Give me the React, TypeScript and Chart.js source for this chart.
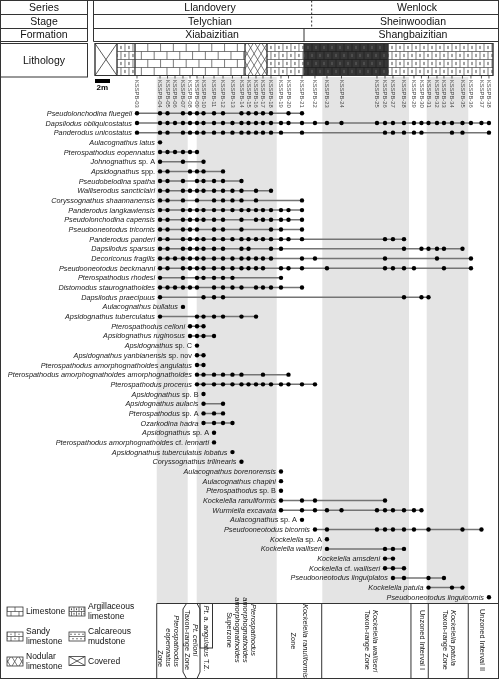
import React, { useEffect, useRef } from "react";
import { Chart, registerables } from "chart.js";

Chart.register(...registerables);

const FONT = "'Liberation Sans', Arial, Helvetica, sans-serif";

// ---- Samples (stratigraphic height in metres above section base) ----
const SAMPLE_NUMS = [3, 4, 5, 6, 7, 8, 9, 10, 11, 12, 13, 14, 15, 16, 17, 18, 19, 20, 21, 22, 23, 24, 25, 26, 27, 28, 29, 30, 31, 32, 33, 34, 35, 36, 37, 38];
const SAMPLE_HEIGHTS_M = [5.6, 8.67, 9.67, 10.67, 11.73, 12.67, 13.6, 14.47, 15.87, 17.07, 18.33, 19.53, 20.47, 21.47, 22.4, 23.47, 24.8, 25.8, 27.6, 29.33, 30.93, 32.87, 37.6, 38.67, 39.73, 41.2, 42.53, 43.53, 44.47, 45.6, 46.53, 47.6, 49.0, 50.13, 51.53, 52.53];
const SAMPLE_LABELS = SAMPLE_NUMS.map((n) => `KSSPB-${String(n).padStart(2, "0")}`);
const SECTION_TOP_M = 53.07;
const SCALE_BAR_M = 2;

// ---- Species (braces = upright text) ----
const SPECIES = [
  "Pseudolonchodina fluegeli",
  "Dapsilodus obliquicostatus",
  "Panderodus unicostatus",
  "Aulacognathus latus",
  "Pterospathodus eopennatus",
  "Johnognathus {sp. A}",
  "Apsidognathus {spp.}",
  "Pseudobelodina spatha",
  "Walliserodus sancticlairi",
  "Coryssognathus shaannanensis",
  "Panderodus langkawiensis",
  "Pseudolonchodina capensis",
  "Pseudooneotodus tricornis",
  "Panderodus panderi",
  "Dapsilodus sparsus",
  "Decoriconus fragilis",
  "Pseudooneotodus beckmanni",
  "Pterospathodus rhodesi",
  "Distomodus staurognathoides",
  "Dapsilodus praecipuus",
  "Aulacognathus bullatus",
  "Apsidognathus tuberculatus",
  "Pterospathodus celloni",
  "Apsidognathus ruginosus",
  "Apsidognathus {sp. C}",
  "Apsidognathus yanbianensis {sp. nov}",
  "Pterospathodus amorphognathoides angulatus",
  "Pterospathodus amorphognathoides amorphognathoides",
  "Pterospathodus procerus",
  "Apsidognathus {sp. B}",
  "Apsidognathus aulacis",
  "Pterospathodus {sp. A}",
  "Ozarkodina hadra",
  "Apsidognathus {sp. A}",
  "Pterospathodus amorphognathoides {cf.} lennarti",
  "Apsidognathus tuberculatus lobatus",
  "Coryssognathus trilinearis",
  "Aulacognathus borenorensis",
  "Aulacognathus chapini",
  "Pterospathodus {sp. B}",
  "Kockelella ranuliformis",
  "Wurmiella excavata",
  "Aulacognathus {sp. A}",
  "Pseudooneotodus bicornis",
  "Kockelella {sp. A}",
  "Kockelella walliseri",
  "Kockelella amsdeni",
  "Kockelella {cf.} walliseri",
  "Pseudooneotodus linguiplatos",
  "Kockelella patula",
  "Pseudooneotodus linguicornis",
];

// occurrences: sample numbers (KSSPB-xx) in which each species was recovered
const OCCURRENCES = [
  [3, 4, 5, 7, 8, 9, 10, 11, 12, 14, 15, 16, 17, 18, 20, 21],
  [3, 4, 5, 6, 7, 8, 9, 10, 11, 12, 13, 14, 15, 16, 17, 18, 19, 20, 21, 22, 23, 24, 25, 26, 27, 28, 29, 30, 31, 32, 33, 34, 35, 36, 37, 38],
  [3, 4, 5, 7, 8, 9, 10, 11, 12, 13, 14, 15, 16, 17, 18, 19, 21, 26, 27, 28, 29, 30, 34, 35, 38],
  [4],
  [4, 5, 6, 7, 8, 9],
  [4, 7, 10],
  [4, 5, 8, 9, 10, 12],
  [4, 5, 7, 9, 10, 11, 12, 14],
  [4, 5, 7, 8, 9, 10, 11, 12, 13, 14, 16, 18],
  [4, 5, 7, 9, 11, 12, 13, 14, 16, 21],
  [4, 5, 7, 8, 9, 10, 11, 12, 13, 14, 15, 16, 17, 18, 19, 20, 21],
  [4, 5, 7, 8, 9, 10, 11, 12, 14, 16, 17, 18, 19, 20, 21],
  [4, 5, 7, 8, 9, 11, 12, 14, 18, 19, 21],
  [4, 5, 7, 8, 9, 10, 11, 12, 13, 14, 15, 16, 17, 18, 19, 20, 21, 26, 27, 28],
  [4, 5, 7, 8, 9, 10, 11, 12, 14, 15, 18, 19, 28, 30, 31, 32, 33, 35],
  [4, 5, 6, 7, 8, 9, 10, 11, 12, 13, 14, 15, 16, 17, 18, 21, 22, 26, 32, 36],
  [4, 5, 7, 8, 9, 10, 11, 12, 13, 14, 15, 16, 17, 19, 20, 21, 23, 26, 27, 28, 29, 33, 36],
  [4, 7, 9, 10, 11, 12, 13, 19],
  [4, 5, 6, 7, 8, 9, 11, 12, 13, 14, 16, 17, 18, 19, 21],
  [4, 10, 11, 12, 28, 30, 31],
  [7],
  [4, 9, 10, 11, 12, 14, 16],
  [8, 9, 10],
  [8, 9, 10, 11],
  [9],
  [9, 10],
  [9, 10],
  [9, 10, 11, 12, 13, 14, 17, 20],
  [9, 10, 11, 12, 13, 14, 15, 16, 17, 18, 19, 20, 21, 22],
  [10],
  [10, 12],
  [10, 11, 12],
  [10, 11, 12, 13],
  [11],
  [11],
  [13],
  [14],
  [19],
  [19],
  [19],
  [19, 21, 22, 26],
  [19, 21, 22, 23, 24, 25, 26, 27, 28, 29, 30],
  [21],
  [22, 23, 25, 26, 27, 28, 29, 31, 35, 37],
  [23],
  [23, 26, 27, 28],
  [26, 27],
  [26, 27, 28],
  [27, 28, 31, 33],
  [31, 34, 35],
  [38],
];

// ---- Lithology intervals (m) ----
const LITH_FROM = [0, 2.93, 5.33, 20.0, 22.93, 27.87, 39.07];
const LITH_TO = [2.93, 5.33, 20.0, 22.93, 27.87, 39.07, 53.07];
const LITH_TYPE = ["covered", "argillaceous", "limestone", "nodular", "argillaceous", "dark", "argillaceous"];

// ---- Biozone shading (m) ----
const BAND_FROM = [8.23, 13.56, 30.31, 44.23];
const BAND_TO = [12.36, 24.23, 41.87, 49.77];
const ZONE_BOUNDS = [8.23, 24.23, 30.23, 42.13, 44.44, 49.77];

// ---- Chronostratigraphy ----
const SERIES = ["Llandovery", "Wenlock"];
const STAGES = ["Telychian", "Sheinwoodian"];
const FORMATIONS = ["Xiabaizitian", "Shangbaizitian"];
const SERIES_BOUNDARY_M = 28.89;
const FORMATION_BOUNDARY_M = 27.87;

const heightOf = (s: number) => SAMPLE_HEIGHTS_M[SAMPLE_NUMS.indexOf(s)];

// ---------------- drawing helpers ----------------
function drawRich(ctx: CanvasRenderingContext2D, text: string, x: number, y: number, size: number, align: string, defaultItalic = true) {
  const parts = text
    .split(/(\{[^}]*\})/)
    .filter((p) => p.length)
    .map((p) => (p.startsWith("{") ? { t: p.slice(1, -1), it: !defaultItalic } : { t: p, it: defaultItalic }));
  const widths: number[] = [];
  let total = 0;
  for (const p of parts) {
    ctx.font = `${p.it ? "italic " : ""}${size}px ${FONT}`;
    const w = ctx.measureText(p.t).width;
    widths.push(w);
    total += w;
  }
  let cx = align === "right" ? x - total : align === "center" ? x - total / 2 : x;
  ctx.textAlign = "left";
  parts.forEach((p, i) => {
    ctx.font = `${p.it ? "italic " : ""}${size}px ${FONT}`;
    ctx.fillText(p.t, cx, y);
    cx += widths[i];
  });
  return total;
}

function clip(ctx: CanvasRenderingContext2D, x0: number, y0: number, x1: number, y1: number, fn: () => void) {
  ctx.save();
  ctx.beginPath();
  ctx.rect(x0, y0, x1 - x0, y1 - y0);
  ctx.clip();
  fn();
  ctx.restore();
}

function bricks(ctx: CanvasRenderingContext2D, x0: number, y0: number, x1: number, y1: number, rows: number, bw: number, color: string, lw = 0.7) {
  const rh = (y1 - y0) / rows;
  ctx.strokeStyle = color;
  ctx.lineWidth = lw;
  ctx.beginPath();
  for (let r = 1; r < rows; r++) {
    const y = y0 + r * rh;
    ctx.moveTo(x0, y);
    ctx.lineTo(x1, y);
  }
  for (let r = 0; r < rows; r++) {
    const off = (r % 2) * (bw / 2);
    for (let x = x0 + off; x < x1; x += bw) {
      ctx.moveTo(x, y0 + r * rh);
      ctx.lineTo(x, y0 + (r + 1) * rh);
    }
  }
  ctx.stroke();
}

function brickDashes(ctx: CanvasRenderingContext2D, x0: number, y0: number, x1: number, y1: number, rows: number, bw: number, color: string) {
  const rh = (y1 - y0) / rows;
  ctx.strokeStyle = color;
  ctx.lineWidth = 0.9;
  ctx.beginPath();
  for (let r = 0; r < rows; r++) {
    const off = (r % 2) * (bw / 2);
    for (let x = x0 + off - bw / 2; x < x1; x += bw) {
      ctx.moveTo(x, y0 + r * rh + rh * 0.3);
      ctx.lineTo(x, y0 + r * rh + rh * 0.7);
    }
  }
  ctx.stroke();
}

function brickDots(ctx: CanvasRenderingContext2D, x0: number, y0: number, x1: number, y1: number, rows: number, bw: number, color: string) {
  const rh = (y1 - y0) / rows;
  ctx.fillStyle = color;
  for (let r = 0; r < rows; r++) {
    const off = (r % 2) * (bw / 2);
    for (let x = x0 + off - bw / 2; x < x1; x += bw) {
      ctx.fillRect(x - 0.5, y0 + r * rh + rh / 2 - 0.5, 1, 1);
    }
  }
}

function crosshatch(ctx: CanvasRenderingContext2D, x0: number, y0: number, x1: number, y1: number, step: number, color: string) {
  ctx.strokeStyle = color;
  ctx.lineWidth = 0.7;
  ctx.beginPath();
  const h = y1 - y0;
  for (let x = x0 - h; x < x1 + h; x += step) {
    ctx.moveTo(x, y0);
    ctx.lineTo(x + h * 0.6, y1);
    ctx.moveTo(x + h * 0.6, y0);
    ctx.lineTo(x, y1);
  }
  ctx.stroke();
}

function drawPattern(ctx: CanvasRenderingContext2D, type: string, x0: number, y0: number, x1: number, y1: number, rows: number, bw: number) {
  clip(ctx, x0, y0, x1, y1, () => {
    if (type === "covered") {
      ctx.strokeStyle = "#333";
      ctx.lineWidth = 0.8;
      ctx.beginPath();
      ctx.moveTo(x0, y0);
      ctx.lineTo(x1, y1);
      ctx.moveTo(x1, y0);
      ctx.lineTo(x0, y1);
      ctx.stroke();
    } else if (type === "limestone") {
      bricks(ctx, x0, y0, x1, y1, rows, bw * 1.6, "#444");
    } else if (type === "argillaceous") {
      bricks(ctx, x0, y0, x1, y1, rows, bw, "#444");
      brickDashes(ctx, x0, y0, x1, y1, rows, bw, "#333");
    } else if (type === "sandy") {
      bricks(ctx, x0, y0, x1, y1, rows, bw * 1.6, "#444");
      brickDots(ctx, x0, y0, x1, y1, rows, bw * 1.6, "#333");
    } else if (type === "mudstone") {
      const rh = (y1 - y0) / rows;
      ctx.strokeStyle = "#444";
      ctx.lineWidth = 0.7;
      ctx.beginPath();
      for (let r = 1; r < rows; r++) {
        ctx.moveTo(x0, y0 + r * rh);
        ctx.lineTo(x1, y0 + r * rh);
      }
      for (let r = 0; r < rows; r++) {
        for (let x = x0 + 1 + (r % 2) * 2; x < x1; x += 4) {
          ctx.moveTo(x, y0 + r * rh + rh / 2);
          ctx.lineTo(x + 2, y0 + r * rh + rh / 2);
        }
      }
      ctx.stroke();
    } else if (type === "nodular") {
      crosshatch(ctx, x0, y0, x1, y1, 7, "#444");
    } else if (type === "dark") {
      ctx.fillStyle = "#363636";
      ctx.fillRect(x0, y0, x1 - x0, y1 - y0);
      bricks(ctx, x0, y0, x1, y1, rows, bw, "#1c1c1c");
      brickDashes(ctx, x0, y0, x1, y1, rows, bw, "#6a6a6a");
    }
  });
  ctx.strokeStyle = "#333";
  ctx.lineWidth = 0.8;
  ctx.strokeRect(x0, y0, x1 - x0, y1 - y0);
}

function vtext(ctx: CanvasRenderingContext2D, text: string, x: number, y: number, size: number, align: string, defaultItalic = true) {
  ctx.save();
  ctx.translate(x, y);
  ctx.rotate(Math.PI / 2);
  ctx.textBaseline = "middle";
  drawRich(ctx, text, 0, 0, size, align, defaultItalic);
  ctx.restore();
}

function line(ctx: CanvasRenderingContext2D, x0: number, y0: number, x1: number, y1: number) {
  ctx.beginPath();
  ctx.moveTo(x0, y0);
  ctx.lineTo(x1, y1);
  ctx.stroke();
}

const figurePlugin = {
  id: "figure",
  beforeDatasetsDraw(chart: any) {
    const ctx: CanvasRenderingContext2D = chart.ctx;
    const xs = chart.scales.x;
    const X = (m: number) => xs.getPixelForValue(m);
    const W = 498.5;
    ctx.save();

    // zone shading
    ctx.fillStyle = "#e4e4e4";
    BAND_FROM.forEach((f, i) => ctx.fillRect(X(f), 77, X(BAND_TO[i]) - X(f), 603.5 - 77));

    ctx.strokeStyle = "#333";
    ctx.lineWidth = 1;
    ctx.fillStyle = "#111";
    ctx.textBaseline = "middle";

    // outer frame
    ctx.strokeRect(0.5, 0.5, W - 0.5, 678);

    // header left boxes
    const rowsY = [0.5, 14.5, 28.5, 41.5];
    line(ctx, 87.5, 0.5, 87.5, 41.5);
    line(ctx, 0.5, 14.5, 87.5, 14.5);
    line(ctx, 0.5, 28.5, 87.5, 28.5);
    line(ctx, 0.5, 41.5, 87.5, 41.5);
    ctx.strokeRect(0.5, 43.5, 87, 33.5);
    ctx.textAlign = "center";
    ctx.font = `10.5px ${FONT}`;
    ctx.fillText("Series", 44, 7.8);
    ctx.fillText("Stage", 44, 21.8);
    ctx.fillText("Formation", 44, 35.3);
    ctx.fillText("Lithology", 44, 61);

    // header right boxes
    line(ctx, 93.5, 0.5, 93.5, 41.5);
    line(ctx, 93.5, 14.5, W, 14.5);
    line(ctx, 93.5, 28.5, W, 28.5);
    line(ctx, 93.5, 41.5, W, 41.5);
    ctx.save();
    ctx.setLineDash([2, 2]);
    line(ctx, X(SERIES_BOUNDARY_M), rowsY[0], X(SERIES_BOUNDARY_M), rowsY[2]);
    ctx.restore();
    line(ctx, X(FORMATION_BOUNDARY_M), rowsY[2], X(FORMATION_BOUNDARY_M), rowsY[3]);
    ctx.fillStyle = "#111";
    ctx.font = `10.5px ${FONT}`;
    ctx.textAlign = "center";
    ctx.fillText(SERIES[0], 210, 7.8);
    ctx.fillText(SERIES[1], 417, 7.8);
    ctx.fillText(STAGES[0], 210, 21.8);
    ctx.fillText(STAGES[1], 413, 21.8);
    ctx.fillText(FORMATIONS[0], 212, 35.3);
    ctx.fillText(FORMATIONS[1], 413, 35.3);

    // lithology column
    const ly0 = 43.5, ly1 = 75.5;
    LITH_FROM.forEach((f, i) => {
      drawPattern(ctx, LITH_TYPE[i], X(f), ly0, X(LITH_TO[i]), ly1, 4, 8);
    });
    ctx.strokeStyle = "#333";
    ctx.lineWidth = 1;
    ctx.strokeRect(X(0), ly0, X(SECTION_TOP_M) - X(0), ly1 - ly0);

    // scale bar
    ctx.fillStyle = "#000";
    ctx.fillRect(X(0), 79, X(SCALE_BAR_M) - X(0), 4);
    ctx.font = `bold 8px ${FONT}`;
    ctx.textAlign = "left";
    ctx.fillText("2m", X(0) + 1.5, 88);

    // sample ticks and labels
    ctx.strokeStyle = "#333";
    ctx.lineWidth = 0.8;
    SAMPLE_HEIGHTS_M.forEach((h, i) => {
      const x = X(h);
      line(ctx, x, ly1, x, ly1 + 3);
      ctx.fillStyle = "#444";
      vtext(ctx, SAMPLE_LABELS[i], x, 80, 5.8, "left", false);
    });

    // biozone table
    ctx.strokeStyle = "#333";
    ctx.lineWidth = 1;
    const zy0 = 603.5, zy1 = 678.5;
    line(ctx, X(ZONE_BOUNDS[0]), zy0, W, zy0);
    ZONE_BOUNDS.forEach((b) => line(ctx, X(b), zy0, X(b), zy1));
    // celloni hexagon and angulatus box
    ctx.beginPath();
    ctx.moveTo(186.5, zy0);
    ctx.lineTo(197, zy0);
    ctx.lineTo(200, 609);
    ctx.lineTo(200, 672);
    ctx.lineTo(197, zy1);
    ctx.lineTo(186.5, zy1);
    ctx.lineTo(183, 672);
    ctx.lineTo(183, 609);
    ctx.closePath();
    ctx.stroke();
    ctx.strokeRect(200, zy0, 12.5, 44.5);

    ctx.fillStyle = "#111";
    const zoneLabels: { lines: string[]; x: number; align: string; y: number; lh?: number }[] = [
      { lines: ["Pterospathodus", "eopennatus", "{Zone}"], x: 176.5, align: "right", y: 667 },
      { lines: ["Pt. celloni", "{Taxon-range Zone}"], x: 195, align: "center", y: 640 },
      { lines: ["Pt. a. angulatus {T.Z.}"], x: 206.5, align: "left", y: 605.5 },
      { lines: ["Pterospathodus", "amorphognathoides", "amorphognathoides", "{Superzone}"], x: 253, align: "center", y: 630 },
      { lines: ["Kockelella ranuliformis", "{Zone}"], x: 305, align: "center", y: 641, lh: 11.5 },
      { lines: ["Kockelella walliseri", "{Taxon-range Zone}"], x: 375, align: "left", y: 610 },
      { lines: ["{Unzoned Interval I}"], x: 421.7, align: "center", y: 640 },
      { lines: ["Kockelella patula", "{Taxon-range Zone}"], x: 453, align: "left", y: 610 },
      { lines: ["{Unzoned Interval II}"], x: 481.7, align: "center", y: 640 },
    ];
    zoneLabels.forEach((z) => {
      const lh = z.lh ?? 8;
      z.lines.forEach((t, i) => vtext(ctx, t, z.x - i * lh, z.y, 7.4, z.align, true));
    });

    // lithology legend
    const legend: { type: string; x: number; y: number; lines: string[] }[] = [
      { type: "limestone", x: 7, y: 607, lines: ["Limestone"] },
      { type: "argillaceous", x: 69, y: 607, lines: ["Argillaceous", "limestone"] },
      { type: "sandy", x: 7, y: 632, lines: ["Sandy", "limestone"] },
      { type: "mudstone", x: 69, y: 632, lines: ["Calcareous", "mudstone"] },
      { type: "nodular", x: 7, y: 657, lines: ["Nodular", "limestone"] },
      { type: "covered", x: 69, y: 656.5, lines: ["Covered"] },
    ];
    legend.forEach((l) => {
      ctx.fillStyle = "#fff";
      ctx.fillRect(l.x, l.y, 16, 9);
      drawPattern(ctx, l.type, l.x, l.y, l.x + 16, l.y + 9, 2, 5);
      ctx.fillStyle = "#111";
      ctx.font = `8.5px ${FONT}`;
      ctx.textAlign = "left";
      ctx.textBaseline = "middle";
      if (l.lines.length === 1) ctx.fillText(l.lines[0], l.x + 19, l.y + 5);
      else {
        ctx.fillText(l.lines[0], l.x + 19, l.y - 0.5);
        ctx.fillText(l.lines[1], l.x + 19, l.y + 10);
      }
    });

    ctx.restore();
  },
  afterDatasetsDraw(chart: any) {
    const ctx: CanvasRenderingContext2D = chart.ctx;
    const xs = chart.scales.x;
    const ys = chart.scales.y;
    ctx.save();
    ctx.fillStyle = "#1a1a1a";
    ctx.textBaseline = "middle";
    SPECIES.forEach((name, i) => {
      const first = heightOf(OCCURRENCES[i][0]);
      drawRich(ctx, name, xs.getPixelForValue(first) - 5, ys.getPixelForValue(i) + 0.5, 7.3, "right", true);
    });
    ctx.restore();
  },
};

export default function App() {
  const ref = useRef<HTMLCanvasElement>(null);
  useEffect(() => {
    document.body.style.margin = "0";
    const datasets = SPECIES.map((name, i) => ({
      label: name,
      data: OCCURRENCES[i].map((s) => ({ x: heightOf(s), y: i })),
      showLine: true,
      borderColor: "#747474",
      borderWidth: 1.5,
      pointRadius: 2.2,
      pointHoverRadius: 2.2,
      pointBackgroundColor: "#000",
      pointBorderColor: "#000",
      pointBorderWidth: 0,
    }));
    const chart = new Chart(ref.current as HTMLCanvasElement, {
      type: "scatter",
      data: { datasets },
      options: {
        animation: false,
        responsive: false,
        devicePixelRatio: 1,
        events: [],
        layout: { padding: { left: 95, right: 7, top: 108.46, bottom: 77.86 } },
        scales: {
          x: { type: "linear", min: 0, max: SECTION_TOP_M, display: false },
          y: { type: "linear", min: -0.5, max: SPECIES.length - 0.5, reverse: true, display: false },
        },
        plugins: { legend: { display: false }, tooltip: { enabled: false } },
      },
      plugins: [figurePlugin],
    } as any);
    return () => chart.destroy();
  }, []);
  return <canvas ref={ref} width={500} height={680} style={{ display: "block", background: "#fff" }} />;
}
